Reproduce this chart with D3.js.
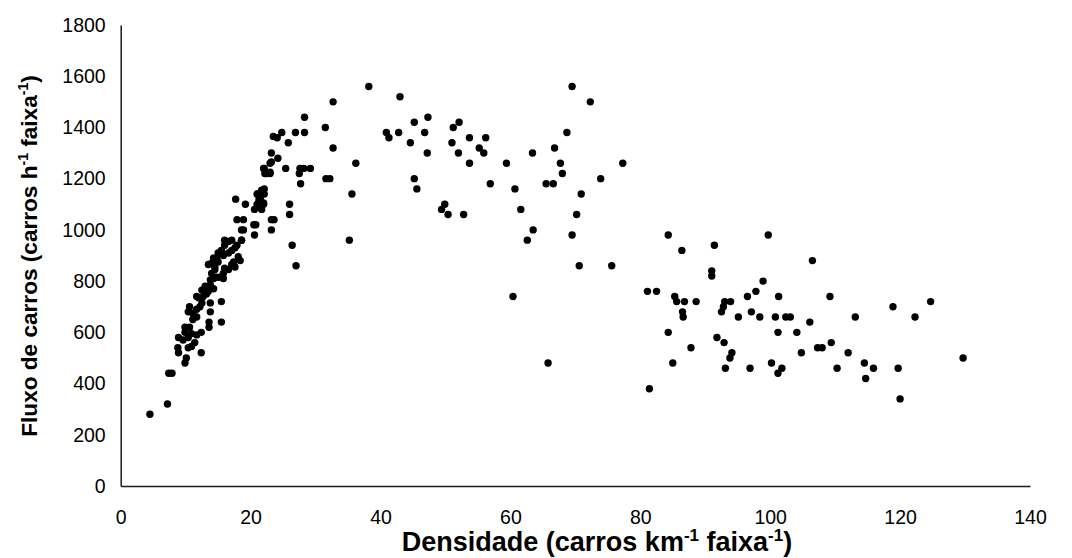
<!DOCTYPE html>
<html>
<head>
<meta charset="utf-8">
<script src="https://d3js.org/d3.v7.min.js"></script>
<style>
  html, body { margin: 0; padding: 0; background: #fff; }
  svg { display: block; font-family: "Liberation Sans", Arial, sans-serif; }
</style>
</head>
<body>
<svg id="chart" width="1072" height="558"></svg>
<script>
// Density (carros km-1 faixa-1)
const densidade = [
  4.5,7.2,7.4,7.9,9.9,10.1,12.4,8.9,8.8,10.4,10.9,8.9,9.6,10.4,11.4,9.9,10.9,11.7,12.4,9.9,10.6,13.6,13.6,15.5,
  11.1,11.7,11.1,10.4,10.6,11.7,12.2,13.8,12.5,12.0,11.7,12.7,13.2,13.8,15.5,12.5,13.0,13.5,13.8,14.3,13.8,14.3,
  14.8,14.0,14.5,15.3,15.8,15.8,13.5,14.0,14.5,15.0,14.3,16.0,16.6,17.1,17.6,14.8,15.0,15.8,15.5,16.0,16.6,16.0,
  17.1,16.6,17.1,17.6,17.9,18.1,18.4,17.4,18.6,
  17.7,19.2,17.9,18.9,18.6,18.9,20.5,20.6,23.2,23.2,21.0,21.7,21.5,20.6,21.7,22.0,21.2,22.0,22.2,23.0,23.2,23.2,
  23.5,22.1,22.1,21.1,21.3,22.0,21.0,23.6,20.8,18.6,26.0,26.0,26.4,27.0,24.8,26.9,28.3,24.1,25.8,24.2,23.0,22.1,
  22.4,23.0,25.4,27.6,28.2,29.2,27.5,27.7,28.3,31.5,31.6,
  32.7,32.7,36.2,32.2,35.6,35.2,38.2,43.0,40.9,41.3,42.8,45.2,47.3,46.8,44.6,47.2,45.2,45.6,52.1,51.2,51.0,53.7,
  52.0,56.2,55.2,55.9,53.7,56.9,49.9,49.4,50.4,52.8,59.4,60.7,61.6,63.5,62.6,63.4,60.4,65.5,66.6,66.8,67.7,68.0,
  68.7,69.5,70.2,69.5,70.9,70.6,65.8,72.3,77.3,73.9,75.6,
  84.3,86.4,91.4,99.7,91.0,91.0,98.9,97.8,96.5,101.3,81.1,82.5,85.3,106.5,85.6,86.8,88.6,86.5,86.6,84.3,87.8,85.0,
  81.4,93.0,93.9,92.5,92.8,95.1,97.1,98.4,100.8,102.4,103.1,101.2,104.1,106.1,109.2,91.8,92.9,94.1,93.8,93.1,96.9,
  100.2,101.8,101.2,104.8,107.3,108.0,109.4,113.1,112.0,110.3,114.5,115.9,114.7,118.9,122.3,124.7,119.7,120.0,129.7
];
// Flow (carros h-1 faixa-1)
const fluxo = [
  280,320,440,440,480,500,520,520,540,540,545,580,570,580,560,600,595,590,600,620,620,620,640,640,
  650,660,675,680,700,690,700,680,715,735,740,740,750,715,720,765,780,760,785,770,805,810,
  815,830,845,815,810,830,865,870,855,875,890,850,845,865,855,890,910,900,920,940,955,960,
  960,910,920,930,940,895,880,875,960,
  1120,1100,1040,1040,1000,1000,1020,980,1040,1000,1140,1155,1120,1080,1080,1105,1105,1240,1220,1225,1265,1300,
  1365,1160,1140,1140,1120,1100,1100,1040,1020,960,1100,1060,940,860,1380,1380,1380,1360,1340,1280,1260,1240,
  1220,1220,1240,1240,1240,1240,1220,1180,1440,1400,1200,
  1500,1320,1260,1200,1140,960,1560,1520,1380,1360,1380,1420,1440,1380,1340,1300,1200,1160,1420,1400,1340,1360,
  1300,1360,1320,1300,1260,1180,1100,1080,1060,1060,1260,1160,1080,1000,960,1300,740,1180,1180,1320,1260,1220,
  1380,1560,1060,980,1140,860,480,1500,1260,1200,860,
  980,920,940,980,840,820,800,760,740,740,760,760,740,880,720,720,720,680,660,600,540,480,
  380,720,720,680,700,660,680,660,660,660,660,600,600,640,740,580,560,520,500,460,460,
  480,460,440,520,540,540,560,660,520,460,480,460,420,700,660,720,460,340,500
];
const xTicks = [0, 20, 40, 60, 80, 100, 120, 140];
const yTicks = [0, 200, 400, 600, 800, 1000, 1200, 1400, 1600, 1800];

const svg = d3.select("#chart");
const x = d3.scaleLinear().domain([0, 140]).range([120.7, 1030]);
const y = d3.scaleLinear().domain([0, 1800]).range([486, 25]);

// axes
const xAxis = svg.append("g").attr("transform", "translate(0,486)")
  .call(d3.axisBottom(x).tickValues(xTicks).tickSize(0).tickPadding(24).tickFormat(d3.format("d")));
const yAxis = svg.append("g").attr("transform", "translate(120.7,0)")
  .call(d3.axisLeft(y).tickValues(yTicks).tickSize(0).tickPadding(15).tickFormat(d3.format("d")));
[xAxis, yAxis].forEach(g => {
  g.select(".domain").attr("stroke", "#1a1a1a").attr("stroke-width", 1.5);
  g.selectAll("text").attr("font-family", "Liberation Sans, Arial, sans-serif")
    .attr("font-size", 19.5).attr("fill", "#000");
});

// points
const pts = densidade.map((d, i) => ({ d, f: fluxo[i] }));
svg.append("g").selectAll("circle").data(pts).join("circle")
  .attr("cx", p => x(p.d)).attr("cy", p => y(p.f)).attr("r", 3.7).attr("fill", "#000");

// titles
function titleParts(sel, main1, mid, fs) {
  const sup = Math.round(fs * 0.62);
  const dy = Math.round(fs * 0.38);
  sel.append("tspan").text(main1);
  sel.append("tspan").attr("dy", -dy).attr("font-size", sup).text("-1");
  sel.append("tspan").attr("dy", dy).text(mid);
  sel.append("tspan").attr("dy", -dy).attr("font-size", sup).text("-1");
  sel.append("tspan").attr("dy", dy).text(")");
}
const xt = svg.append("text").attr("x", 597).attr("y", 551).attr("text-anchor", "middle")
  .attr("font-size", 27).attr("font-weight", "bold").attr("fill", "#000");
titleParts(xt, "Densidade (carros km", " faixa", 27);

const yt = svg.append("text").attr("transform", "translate(37,256) rotate(-90)").attr("text-anchor", "middle")
  .attr("font-size", 22.6).attr("font-weight", "bold").attr("fill", "#000");
titleParts(yt, "Fluxo de carros (carros h", " faixa", 22.6);
</script>
</body>
</html>
